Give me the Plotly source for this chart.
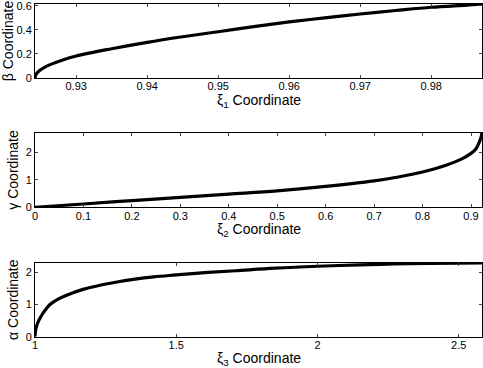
import plotly.graph_objects as go

# Panel 1: beta vs xi1
xi1 = [0.9242, 0.9243, 0.9246, 0.9250, 0.9256, 0.9265, 0.9280, 0.9300, 0.9350, 0.9400,
       0.9450, 0.9500, 0.9550, 0.9600, 0.9650, 0.9700, 0.9750, 0.9800, 0.9850, 0.9872]
beta = [0.0, 0.025, 0.048, 0.068, 0.090, 0.115, 0.148, 0.183, 0.243, 0.296,
        0.342, 0.384, 0.426, 0.465, 0.499, 0.531, 0.560, 0.587, 0.605, 0.614]

# Panel 2: gamma vs xi2
xi2 = [0.0, 0.1, 0.2, 0.3, 0.4, 0.5, 0.6, 0.7, 0.75, 0.8, 0.85, 0.88, 0.9, 0.91,
       0.915, 0.92, 0.9233]
gamma = [0.0, 0.12, 0.245, 0.36, 0.48, 0.60, 0.76, 0.96, 1.10, 1.28, 1.54, 1.75,
         1.96, 2.12, 2.28, 2.50, 2.75]

# Panel 3: alpha vs xi3
xi3 = [1.0, 1.002, 1.006, 1.012, 1.02, 1.029, 1.04, 1.053, 1.08, 1.112, 1.17, 1.23,
       1.29, 1.348, 1.42, 1.5, 1.6, 1.71, 1.85, 2.0, 2.15, 2.27, 2.4, 2.5, 2.5835]
alpha = [0.0, 0.19, 0.34, 0.475, 0.61, 0.74, 0.87, 1.0, 1.16, 1.29, 1.47, 1.6,
         1.7, 1.78, 1.86, 1.92, 1.99, 2.05, 2.13, 2.19, 2.23, 2.26, 2.275, 2.283, 2.29]

x_ticks1 = [0.93, 0.94, 0.95, 0.96, 0.97, 0.98]
y_ticks1 = [0, 0.2, 0.4, 0.6]
x_ticks2 = [0, 0.1, 0.2, 0.3, 0.4, 0.5, 0.6, 0.7, 0.8, 0.9]
y_ticks2 = [0, 1, 2]
x_ticks3 = [1, 1.5, 2, 2.5]
y_ticks3 = [0, 1, 2]

W, H = 483, 368
xdom = [35 / W, 482.3 / W]
ydoms = [[1 - 78 / H, 1 - 4 / H],
         [1 - 207.3 / H, 1 - 132.7 / H],
         [1 - 336.7 / H, 1 - 262.7 / H]]
xtitle_top_px = [90.0, 219.0, 348.0]

fig = go.Figure()
series = [(xi1, beta), (xi2, gamma), (xi3, alpha)]
for i, (xs, ys) in enumerate(series):
    suffix = "" if i == 0 else str(i + 1)
    fig.add_trace(go.Scatter(x=xs, y=ys, mode="lines", line=dict(color="black", width=3.2),
                             line_shape="spline", xaxis="x" + suffix, yaxis="y" + suffix,
                             showlegend=False, hoverinfo="skip"))

font = dict(family="Liberation Sans, Arial, Helvetica, sans-serif", color="black")
tickfont = dict(font, size=11)
titlefont = dict(font, size=14)

axcfg = [
    dict(xr=[0.9242, 0.9872], yr=[0, 0.614], xt=x_ticks1, yt=y_ticks1,
         xtitle="ξ<sub>1</sub> Coordinate", ytitle="β Coordinate"),
    dict(xr=[0, 0.9233], yr=[0, 2.71], xt=x_ticks2, yt=y_ticks2,
         xtitle="ξ<sub>2</sub> Coordinate", ytitle="γ Coordinate"),
    dict(xr=[1, 2.5835], yr=[0, 2.30], xt=x_ticks3, yt=y_ticks3,
         xtitle="ξ<sub>3</sub> Coordinate", ytitle="α Coordinate"),
]

layout = dict(width=W, height=H, margin=dict(l=0, r=0, t=0, b=0),
              paper_bgcolor="white", plot_bgcolor="white", showlegend=False)
annotations = []
for i, c in enumerate(axcfg):
    suffix = "" if i == 0 else str(i + 1)
    common = dict(showgrid=False, zeroline=False, showline=True, linecolor="black",
                  linewidth=1, mirror="ticks", ticks="inside", ticklen=3,
                  tickcolor="#444", tickwidth=1, tickfont=tickfont, fixedrange=True,
                  ticklabeloverflow="allow")
    layout["xaxis" + suffix] = dict(common, domain=xdom, range=c["xr"], tickvals=c["xt"],
                                    anchor="y" + suffix, automargin=False,
                                    ticklabelstandoff=-2)
    layout["yaxis" + suffix] = dict(common, domain=ydoms[i], range=c["yr"], tickvals=c["yt"],
                                    anchor="x" + suffix, automargin=False,
                                    title=dict(text=c["ytitle"], font=titlefont, standoff=3))
    annotations.append(dict(text=c["xtitle"], font=titlefont, showarrow=False,
                            xref="paper", yref="paper", x=(xdom[0] + xdom[1]) / 2,
                            y=1 - xtitle_top_px[i] / H, xanchor="center", yanchor="top"))
layout["annotations"] = annotations
fig.update_layout(**layout)
fig.write_html("out.html", config={"displayModeBar": False},
               post_script="document.body.style.margin='0';document.body.style.padding='0';")
